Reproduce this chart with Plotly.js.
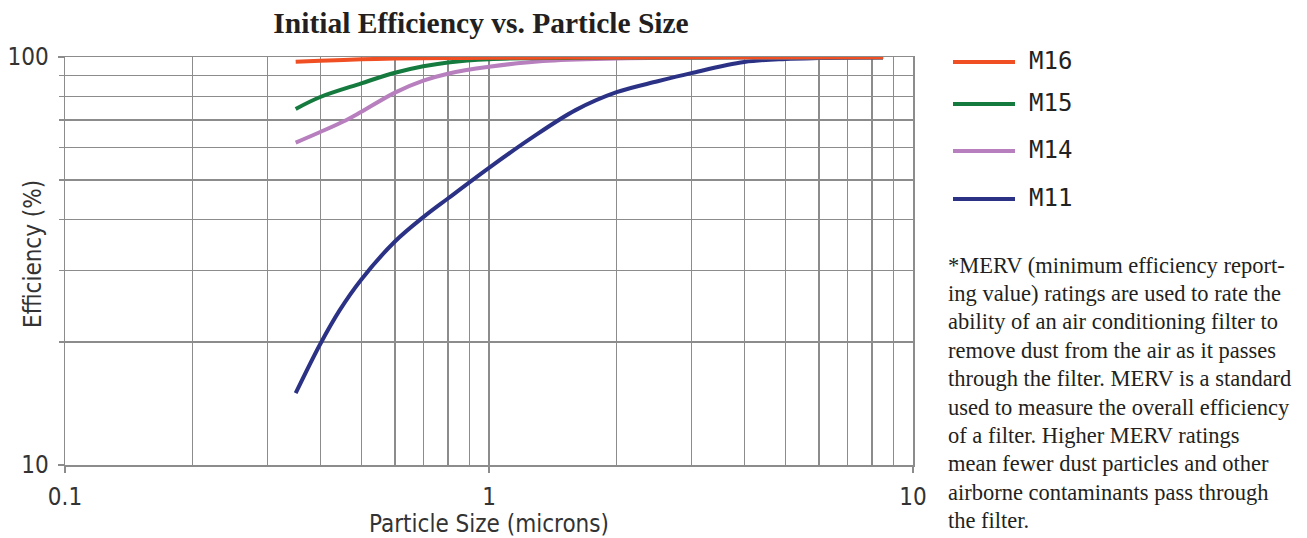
<!DOCTYPE html>
<html>
<head>
<meta charset="utf-8">
<script src="https://cdn.plot.ly/plotly-3.0.1.min.js"></script>
<style>
html,body{margin:0;padding:0;background:#fff;}
#chart{width:1307px;height:538px;}
</style>
</head>
<body>
<div id="chart"></div>
<script>
// ---- Data ----
const seriesNames = ['M16', 'M15', 'M14', 'M11'];
const seriesColors = ['#F04E23', '#157A3E', '#B77FBD', '#2B3285'];

const m16X = [0.35, 0.4, 0.5, 0.6, 0.8, 1.0, 1.5, 2.0, 4.0, 8.5];
const m16Y = [97.3, 97.9, 98.7, 99.1, 99.4, 99.55, 99.7, 99.75, 99.8, 99.85];

const m15X = [0.35, 0.4, 0.5, 0.6, 0.7, 0.8, 1.0, 1.5, 2.0, 4.0, 8.5];
const m15Y = [74.6, 79.8, 86.2, 91.5, 94.9, 97.0, 98.8, 99.5, 99.7, 99.8, 99.85];

const m14X = [0.35, 0.4, 0.46, 0.5, 0.6, 0.7, 0.8, 1.0, 1.34, 2.0, 3.0, 5.0, 8.5];
const m14Y = [61.7, 65.5, 70.0, 73.4, 81.8, 87.5, 91.0, 94.6, 97.8, 99.2, 99.6, 99.75, 99.8];

const m11X = [0.35, 0.4, 0.445, 0.5, 0.6, 0.7, 0.8, 1.0, 1.25, 1.6, 2.0, 2.5, 3.0, 4.0, 5.0, 6.0, 8.5];
const m11Y = [15.0, 19.8, 24.0, 28.5, 35.3, 40.5, 45.0, 53.5, 63.0, 74.1, 82.0, 87.2, 91.3, 97.2, 98.9, 99.4, 99.7];

const xTickVals = [0.1, 1, 10];
const xTickText = ['0.1', '1', '10'];
const xMinorVals = [0.2, 0.3, 0.4, 0.5, 0.6, 0.7, 0.8, 0.9, 2, 3, 4, 5, 6, 7, 8, 9];
const yTickVals = [10, 100];
const yTickText = ['10', '100'];
const yMinorVals = [20, 30, 40, 50, 60, 70, 80, 90];

const chartTitle = 'Initial Efficiency vs. Particle Size';
const xTitle = 'Particle Size (microns)';
const yTitle = 'Efficiency (%)';

const noteLines = [
  '*MERV (minimum efficiency report-',
  'ing value) ratings are used to rate the',
  'ability of an air conditioning filter to',
  'remove dust from the air as it passes',
  'through the filter. MERV is a standard',
  'used to measure the overall efficiency',
  'of a filter. Higher MERV ratings',
  'mean fewer dust particles and other',
  'airborne contaminants pass through',
  'the filter.'
];

// ---- Layout geometry ----
const W = 1307, H = 538;
const L = 65, R = 913, T = 57, B = 465;
const pw = R - L, ph = B - T;
const px = v => (v - L) / pw;
const py = v => (B - v) / ph;

const seriesX = [m16X, m15X, m14X, m11X];
const seriesY = [m16Y, m15Y, m14Y, m11Y];

const traces = [];
for (let i = seriesNames.length - 1; i >= 0; i--) {
  traces.push({
    type: 'scatter', mode: 'lines',
    name: seriesNames[i],
    x: seriesX[i], y: seriesY[i],
    line: {color: seriesColors[i], width: 4, shape: 'spline', smoothing: 1},
    showlegend: false,
    hoverinfo: 'x+y+name'
  });
}

const sansNarrow = '"Liberation Sans Narrow", "DejaVu Sans Condensed", "Liberation Sans", sans-serif';
const gridCol = '#8c8c8c';
const shapes = [];
const annotations = [];

// custom legend
const legendY = [62, 104, 151, 199];
seriesNames.forEach((n, i) => {
  shapes.push({type: 'line', xref: 'paper', yref: 'paper',
    x0: px(953), x1: px(1015), y0: py(legendY[i]), y1: py(legendY[i]),
    line: {color: seriesColors[i], width: 4}});
  annotations.push({xref: 'paper', yref: 'paper', x: px(1027), y: py(legendY[i] - 1),
    xanchor: 'left', yanchor: 'middle', showarrow: false, text: n,
    font: {family: '"DejaVu Sans Mono", monospace', size: 24, color: '#222'}});
});

// footnote
noteLines.forEach((t, i) => {
  annotations.push({xref: 'paper', yref: 'paper', x: px(946), y: py(265 + i * 28.4),
    xanchor: 'left', yanchor: 'middle', showarrow: false, text: t,
    font: {family: '"Liberation Serif", "DejaVu Serif", serif', size: 22.5, color: '#231f20'}});
});

// y axis title
annotations.push({xref: 'paper', yref: 'paper', x: px(33), y: py(254),
  xanchor: 'center', yanchor: 'middle', showarrow: false, text: yTitle, textangle: -90,
  font: {family: sansNarrow, size: 24, color: '#333'}});

const layout = {
  width: W, height: H,
  margin: {l: L, r: W - R, t: T, b: H - B, pad: 0},
  paper_bgcolor: '#fff', plot_bgcolor: '#fff',
  title: {text: '<b>' + chartTitle + '</b>', x: px(481), xref: 'paper', xanchor: 'center',
    y: 1 - 23 / H, yanchor: 'middle',
    font: {family: '"Liberation Serif", "DejaVu Serif", serif', size: 29.5, color: '#231f20'}},
  xaxis: {
    type: 'log', range: [-1, 1], fixedrange: true,
    tickmode: 'array', tickvals: xTickVals, ticktext: xTickText,
    ticks: 'outside', ticklen: 6, tickwidth: 1.5, tickcolor: gridCol,
    ticklabelstandoff: 4,
    showgrid: true, gridcolor: gridCol, gridwidth: 1.5,
    minor: {tickmode: 'array', tickvals: xMinorVals, showgrid: true, gridcolor: gridCol, gridwidth: 1.5, ticks: ''},
    showline: true, linecolor: gridCol, linewidth: 1.5, mirror: true,
    zeroline: false,
    tickfont: {family: sansNarrow, size: 24, color: '#333'},
    title: {text: xTitle, standoff: 8, font: {family: sansNarrow, size: 24, color: '#333'}}
  },
  yaxis: {
    type: 'log', range: [1, 2], fixedrange: true,
    tickmode: 'array', tickvals: yTickVals, ticktext: yTickText,
    ticks: 'outside', ticklen: 6, tickwidth: 1.5, tickcolor: gridCol,
    ticklabelstandoff: 4,
    showgrid: true, gridcolor: gridCol, gridwidth: 1.5,
    minor: {tickmode: 'array', tickvals: yMinorVals, showgrid: true, gridcolor: gridCol, gridwidth: 1.5,
      ticks: 'outside', ticklen: 5, tickcolor: gridCol, tickwidth: 1.5},
    showline: true, linecolor: gridCol, linewidth: 1.5, mirror: true,
    zeroline: false,
    tickfont: {family: sansNarrow, size: 24, color: '#333'}
  },
  showlegend: false,
  shapes: shapes,
  annotations: annotations
};

Plotly.newPlot('chart', traces, layout, {displayModeBar: false, staticPlot: true});
</script>
</body>
</html>
